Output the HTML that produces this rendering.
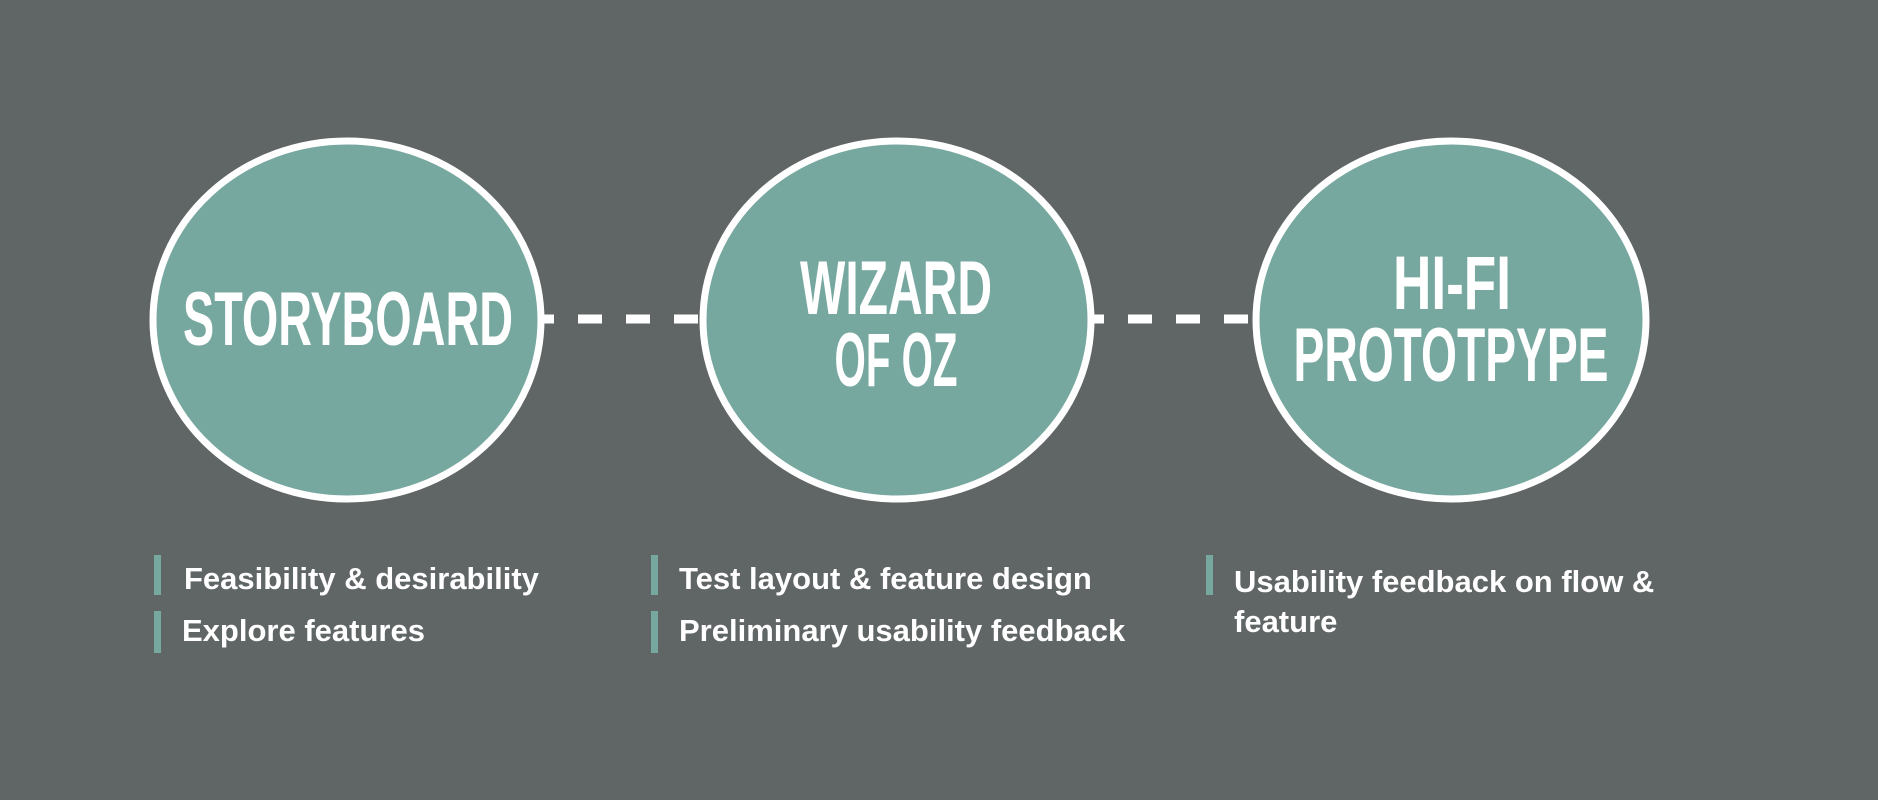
<!DOCTYPE html>
<html><head><meta charset="utf-8"><style>
body{margin:0;width:1878px;height:800px;background:#606566;overflow:hidden;position:relative;font-family:"Liberation Sans",sans-serif}
svg{position:absolute;left:0;top:0}
.t{position:absolute;color:#fff;font-size:31px;font-weight:bold;white-space:nowrap;line-height:1}
.b{position:absolute;width:7px;background:#77a8a0}
</style></head><body>
<svg width="1878" height="800">
<g fill="#77a8a0" stroke="#fff" stroke-width="7">
<ellipse cx="347" cy="320" rx="194" ry="179"/>
<ellipse cx="897" cy="320" rx="194" ry="179"/>
<ellipse cx="1451" cy="320" rx="195" ry="179"/>
</g>
<g stroke="#fff" stroke-width="9" stroke-dasharray="24,24">
<line x1="540" y1="319" x2="702" y2="319" stroke-dashoffset="10"/>
<line x1="1090" y1="319" x2="1256" y2="319" stroke-dashoffset="10"/>
</g>
<g fill="#fff" font-family="Liberation Sans Narrow, Liberation Sans, sans-serif" font-weight="bold" font-size="76" text-anchor="middle">
<text x="348" y="345" textLength="330" lengthAdjust="spacingAndGlyphs">STORYBOARD</text>
<text x="896" y="314" textLength="192" lengthAdjust="spacingAndGlyphs">WIZARD</text>
<text x="896" y="386" textLength="123" lengthAdjust="spacingAndGlyphs">OF OZ</text>
<text x="1452" y="309" textLength="118" lengthAdjust="spacingAndGlyphs">HI-FI</text>
<text x="1451" y="381" textLength="315" lengthAdjust="spacingAndGlyphs">PROTOTPYPE</text>
</g>
</svg>
<div class="b" style="left:154px;top:555px;height:40px"></div>
<div class="b" style="left:154px;top:611px;height:42px"></div>
<div class="b" style="left:651px;top:555px;height:40px"></div>
<div class="b" style="left:651px;top:611px;height:42px"></div>
<div class="b" style="left:1206px;top:555px;height:40px"></div>
<div class="t" style="left:184px;top:563px">Feasibility &amp; desirability</div>
<div class="t" style="left:182px;top:615px">Explore features</div>
<div class="t" style="left:679px;top:563px">Test layout &amp; feature design</div>
<div class="t" style="left:679px;top:615px">Preliminary usability feedback</div>
<div class="t" style="left:1234px;top:566px">Usability feedback on flow &amp;</div>
<div class="t" style="left:1234px;top:606px">feature</div>
</body></html>
